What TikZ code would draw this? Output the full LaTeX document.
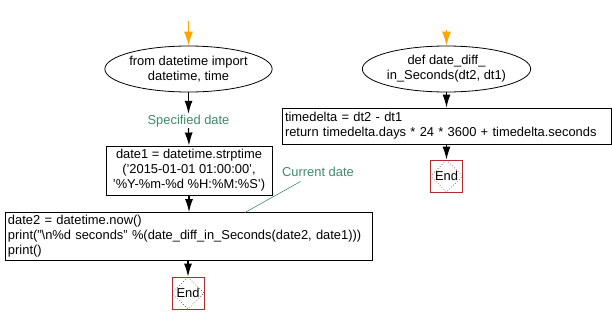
\documentclass[tikz,border=0pt]{standalone}
\usepackage{fontspec}
\setmainfont{Liberation Sans}
\usetikzlibrary{shapes.geometric,arrows.meta}
\definecolor{lblgreen}{HTML}{3F8A6C}
\definecolor{endred}{HTML}{B22B2B}
\definecolor{startorange}{HTML}{FFA500}
\tikzset{
  x=1pt,y=-1pt,
  every node/.style={font=\fontsize{12.9}{15}\selectfont},
  ellnode/.style={ellipse,draw,line width=0.8pt,minimum width=143pt,minimum height=46pt,inner sep=0pt,align=center},
  boxnode/.style={rectangle,draw,line width=0.9pt,inner sep=0pt},
  lblnode/.style={text=lblgreen,inner sep=1pt},
  endnode/.style={rectangle,draw=endred,line width=0.8pt,minimum size=32pt,inner sep=0pt,
    path picture={\draw[endred,dotted,line width=0.7pt]
      (path picture bounding box.north) -- (path picture bounding box.east) --
      (path picture bounding box.south) -- (path picture bounding box.west) -- cycle;}},
  arr/.style={line width=1.2pt,-{Latex[length=13pt,width=8pt]}},
  startarr/.style={arr,draw=startorange,-{Latex[length=14pt,width=9pt,fill=startorange]}},
  noteline/.style={draw=lblgreen,line width=0.6pt}
}
\begin{document}
\begin{tikzpicture}
\useasboundingbox (0,0) rectangle (612,325);
% left column
\coordinate (s1) at (188.5,21);
\node[ellnode] (ell1) at (188.5,69) {from datetime import\\datetime, time};
\node[lblnode] (lab1) at (188.5,121) {Specified date};
\node[boxnode,minimum width=166pt,minimum height=49pt,align=center] (box1) at (189,170.5)
  {date1 = datetime.strptime\\('2015-01-01 01:00:00',\\'\%Y-\%m-\%d \%H:\%M:\%S')};
\node[boxnode,minimum width=367pt,minimum height=47.5pt,align=left,text width=361pt] (box2) at (188.5,236.25)
  {date2 = datetime.now()\\print("\textbackslash n\%d seconds" \%(date\_diff\_in\_Seconds(date2, date1)))\\print()};
\node[endnode] (end1) at (188,293) {End};
\node[lblnode] (lab2) at (318,172) {Current date};
\coordinate (n2a) at (300.5,181.5);
\coordinate (n2b) at (245,212.5);
% right column
\coordinate (s2) at (446.5,30);
\node[ellnode] (ell2) at (446.5,69) {def date\_diff\_\\in\_Seconds(dt2, dt1)};
\node[boxnode,minimum width=329pt,minimum height=36pt,align=left,text width=323pt] (box3) at (446.5,126)
  {timedelta = dt2 - dt1\\return timedelta.days * 24 * 3600 + timedelta.seconds};
\node[endnode] (end2) at (446.5,176) {End};
% connectors
\draw[startarr] (s1) -- (ell1.north);
\draw[arr] (ell1.south) -- (lab1.north);
\draw[arr] (lab1.south) -- (box1.north);
\draw[arr] (box1.south) -- (box2.north -| box1.south);
\draw[arr] (box2.south -| end1.north) -- (end1.north);
\draw[noteline] (n2a) -- (n2b);
\draw[startarr] (s2) -- (ell2.north);
\draw[arr] (ell2.south) -- (box3.north -| ell2.south);
\draw[arr] (box3.south -| end2.north) -- (end2.north);
\end{tikzpicture}
\end{document}
